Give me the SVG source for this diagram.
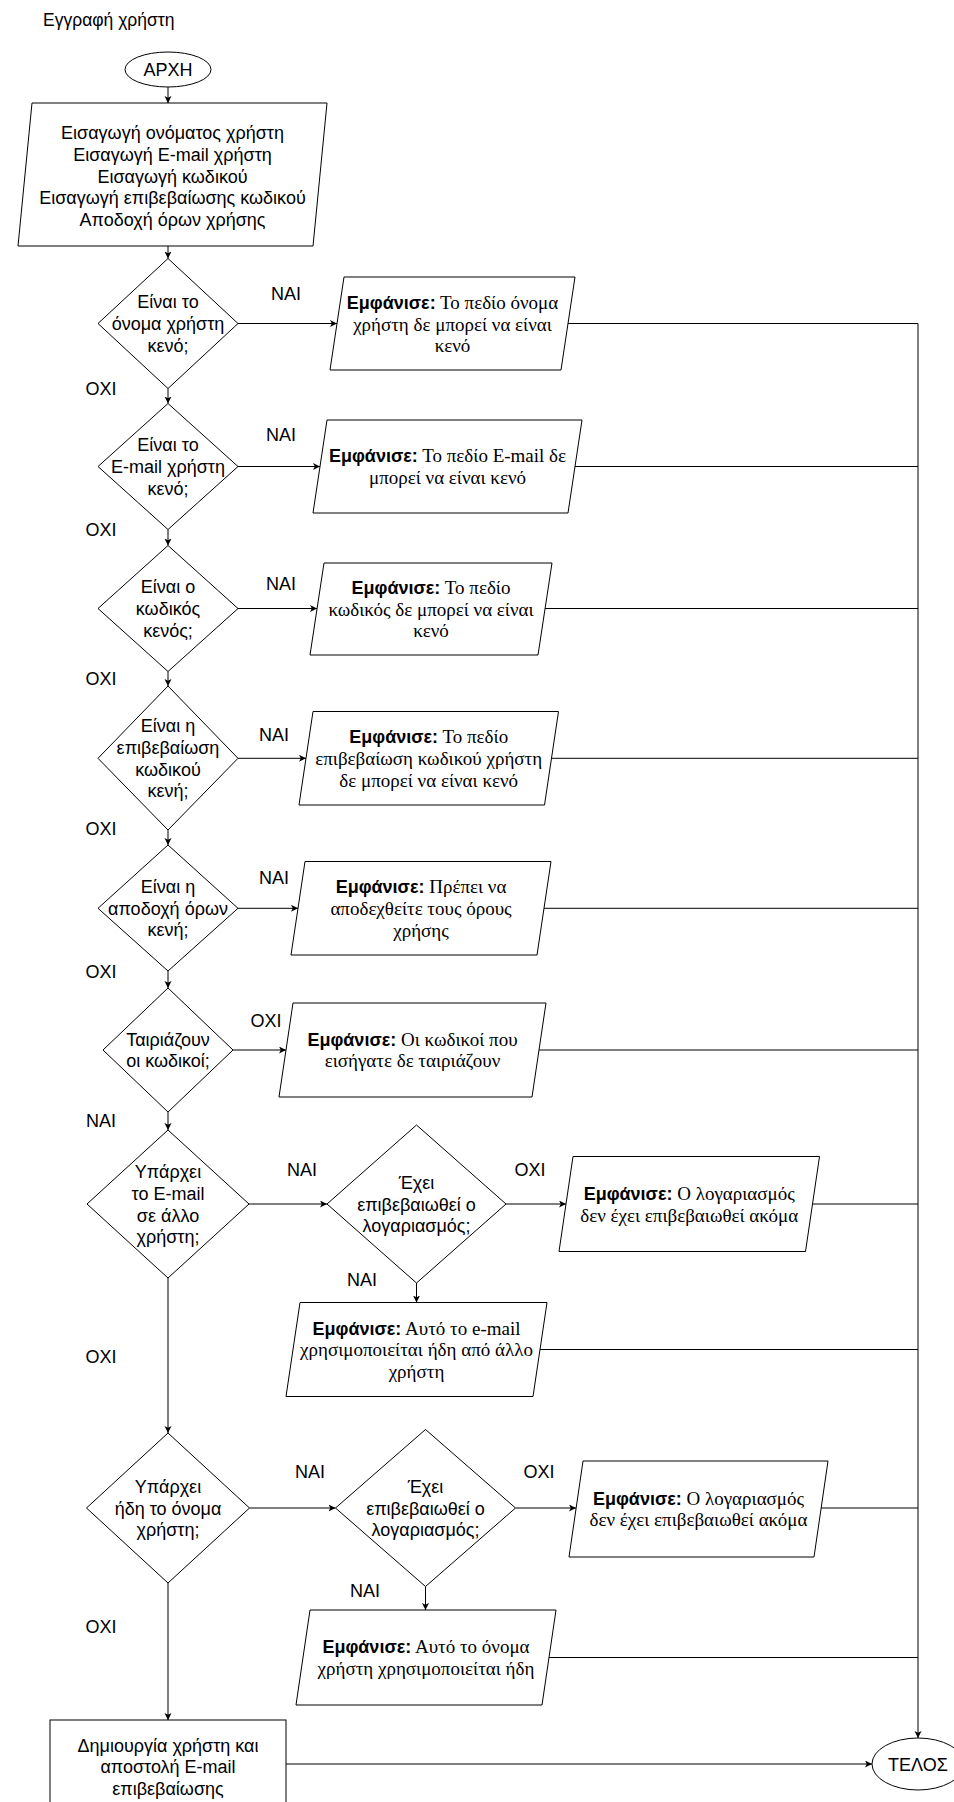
<svg xmlns="http://www.w3.org/2000/svg" width="954" height="1802" viewBox="0 0 954 1802">
  <defs>
    <marker id="arrow" markerUnits="userSpaceOnUse" markerWidth="8" markerHeight="8" refX="7" refY="3.5" orient="auto">
      <path d="M0,0 L7,3.5 L0,7 L1.8,3.5 z" fill="#000"/>
    </marker>
    <style>
      .shape { fill: #fff; stroke: #000; stroke-width: 1; }
      .conn { fill: none; stroke: #000; stroke-width: 1; }
      .arr { marker-end: url(#arrow); }
      .sans { font-family: "Liberation Sans", Arial, sans-serif; font-size: 18px; fill: #000; }
      .serif { font-family: "Liberation Serif", "Times New Roman", serif; font-size: 19px; fill: #000; }
      .b { font-family: "Liberation Sans", Arial, sans-serif; font-weight: bold; font-size: 18px; }
      .c { text-anchor: middle; }
      .title { font-family: "Liberation Sans", Arial, sans-serif; font-size: 17.5px; fill: #000; }
    </style>
  </defs>

  <text class="title" x="43" y="26">Εγγραφή χρήστη</text>

  <!-- connectors -->
  <g id="connectors">
    <!-- main column -->
    <path class="conn arr" d="M168,87 V103"/>
    <path class="conn arr" d="M168,246 V258.5"/>
    <path class="conn arr" d="M168,388.5 V403.5"/>
    <path class="conn arr" d="M168,529.5 V545.5"/>
    <path class="conn arr" d="M168,671.5 V686"/>
    <path class="conn arr" d="M168,830 V845"/>
    <path class="conn arr" d="M168,971 V988"/>
    <path class="conn arr" d="M168,1112 V1130"/>
    <path class="conn arr" d="M168,1278 V1433"/>
    <path class="conn arr" d="M168,1583 V1720"/>
    <!-- decisions to messages -->
    <path class="conn arr" d="M238,323.5 H337"/>
    <path class="conn arr" d="M238,466.5 H320"/>
    <path class="conn arr" d="M238,608.5 H317"/>
    <path class="conn arr" d="M238,758.3 H306"/>
    <path class="conn arr" d="M238,908.3 H298"/>
    <path class="conn arr" d="M233,1050 H286"/>
    <path class="conn arr" d="M249,1204 H327"/>
    <path class="conn arr" d="M506,1204 H566"/>
    <path class="conn arr" d="M416.5,1283 V1302.5"/>
    <path class="conn arr" d="M249.5,1508 H335.5"/>
    <path class="conn arr" d="M515.5,1508 H576"/>
    <path class="conn arr" d="M425.5,1586.5 V1610"/>
    <path class="conn arr" d="M286,1764 H872"/>
    <!-- messages to end bus -->
    <path class="conn" d="M568,323.5 H918"/>
    <path class="conn" d="M575,466.5 H918"/>
    <path class="conn" d="M545,608.5 H918"/>
    <path class="conn" d="M551,758.3 H918"/>
    <path class="conn" d="M544,908.3 H918"/>
    <path class="conn" d="M539,1050 H918"/>
    <path class="conn" d="M812,1204 H918"/>
    <path class="conn" d="M540,1349.5 H918"/>
    <path class="conn" d="M821,1508 H918"/>
    <path class="conn" d="M549,1657.5 H918"/>
    <path class="conn arr" d="M918,323.5 V1738"/>
  </g>

  <!-- branch labels -->
  <g id="labels" class="sans c">
    <text x="286" y="299.5">ΝΑΙ</text>
    <text x="101" y="394.5">ΟΧΙ</text>
    <text x="281" y="441">ΝΑΙ</text>
    <text x="101" y="536">ΟΧΙ</text>
    <text x="281" y="590">ΝΑΙ</text>
    <text x="101" y="685">ΟΧΙ</text>
    <text x="274" y="741">ΝΑΙ</text>
    <text x="101" y="835">ΟΧΙ</text>
    <text x="274" y="883.5">ΝΑΙ</text>
    <text x="101" y="978">ΟΧΙ</text>
    <text x="266" y="1027">ΟΧΙ</text>
    <text x="101" y="1127">ΝΑΙ</text>
    <text x="302" y="1175.5">ΝΑΙ</text>
    <text x="530" y="1175.5">ΟΧΙ</text>
    <text x="362" y="1286">ΝΑΙ</text>
    <text x="101" y="1363">ΟΧΙ</text>
    <text x="310" y="1478">ΝΑΙ</text>
    <text x="539" y="1478">ΟΧΙ</text>
    <text x="365" y="1597">ΝΑΙ</text>
    <text x="101" y="1633">ΟΧΙ</text>
  </g>

  <g id="start">
    <ellipse class="shape" cx="168" cy="69.5" rx="43" ry="17.5"/>
    <text class="sans c" x="168" y="76">ΑΡΧΗ</text>
  </g>

  <g id="input">
    <polygon class="shape" points="32,103 327,103 313,246 18,246"/>
    <text class="sans c" x="172.5" y="139.3">Εισαγωγή ονόματος χρήστη</text>
    <text class="sans c" x="172.5" y="160.9">Εισαγωγή E-mail χρήστη</text>
    <text class="sans c" x="172.5" y="182.5">Εισαγωγή κωδικού</text>
    <text class="sans c" x="172.5" y="204.1">Εισαγωγή επιβεβαίωσης κωδικού</text>
    <text class="sans c" x="172.5" y="225.7">Αποδοχή όρων χρήσης</text>
  </g>

  <g id="d-username-empty">
    <polygon class="shape" points="168,258.5 238,323.5 168,388.5 98,323.5"/>
    <text class="sans c" x="168" y="308.4">Είναι το</text>
    <text class="sans c" x="168" y="330">όνομα χρήστη</text>
    <text class="sans c" x="168" y="351.6">κενό;</text>
  </g>
  <g id="m-username-empty">
    <polygon class="shape" points="344,277 575,277 561,370 330,370"/>
    <text class="serif c" x="452.5" y="309"><tspan class="b">Εμφάνισε:</tspan> Το πεδίο όνομα</text>
    <text class="serif c" x="452.5" y="330.5">χρήστη δε μπορεί να είναι</text>
    <text class="serif c" x="452.5" y="352">κενό</text>
  </g>

  <g id="d-email-empty">
    <polygon class="shape" points="168,403.5 238,466.5 168,529.5 98,466.5"/>
    <text class="sans c" x="168" y="451.4">Είναι το</text>
    <text class="sans c" x="168" y="473">E-mail χρήστη</text>
    <text class="sans c" x="168" y="494.6">κενό;</text>
  </g>
  <g id="m-email-empty">
    <polygon class="shape" points="327,420 582,420 568,513 313,513"/>
    <text class="serif c" x="447.5" y="462"><tspan class="b">Εμφάνισε:</tspan> Το πεδίο E-mail δε</text>
    <text class="serif c" x="447.5" y="484">μπορεί να είναι κενό</text>
  </g>

  <g id="d-password-empty">
    <polygon class="shape" points="168,545.5 238,608.5 168,671.5 98,608.5"/>
    <text class="sans c" x="168" y="593.4">Είναι ο</text>
    <text class="sans c" x="168" y="615">κωδικός</text>
    <text class="sans c" x="168" y="636.6">κενός;</text>
  </g>
  <g id="m-password-empty">
    <polygon class="shape" points="324,563 552,563 538,655 310,655"/>
    <text class="serif c" x="431" y="594"><tspan class="b">Εμφάνισε:</tspan> Το πεδίο</text>
    <text class="serif c" x="431" y="615.5">κωδικός δε μπορεί να είναι</text>
    <text class="serif c" x="431" y="637">κενό</text>
  </g>

  <g id="d-confirm-empty">
    <polygon class="shape" points="168,686 238,758.3 168,830 98,758.3"/>
    <text class="sans c" x="168" y="732.4">Είναι η</text>
    <text class="sans c" x="168" y="754">επιβεβαίωση</text>
    <text class="sans c" x="168" y="775.6">κωδικού</text>
    <text class="sans c" x="168" y="797.2">κενή;</text>
  </g>
  <g id="m-confirm-empty">
    <polygon class="shape" points="313,711.5 558.5,711.5 544.5,805 299,805"/>
    <text class="serif c" x="428.7" y="743"><tspan class="b">Εμφάνισε:</tspan> Το πεδίο</text>
    <text class="serif c" x="428.7" y="765">επιβεβαίωση κωδικού χρήστη</text>
    <text class="serif c" x="428.7" y="786.5">δε μπορεί να είναι κενό</text>
  </g>

  <g id="d-terms-empty">
    <polygon class="shape" points="168,845 238,908.3 168,971 98,908.3"/>
    <text class="sans c" x="168" y="893.2">Είναι η</text>
    <text class="sans c" x="168" y="914.8">αποδοχή όρων</text>
    <text class="sans c" x="168" y="936.4">κενή;</text>
  </g>
  <g id="m-terms-empty">
    <polygon class="shape" points="305,861.5 551,861.5 537,955 291,955"/>
    <text class="serif c" x="421" y="893"><tspan class="b">Εμφάνισε:</tspan> Πρέπει να</text>
    <text class="serif c" x="421" y="915">αποδεχθείτε τους όρους</text>
    <text class="serif c" x="421" y="936.5">χρήσης</text>
  </g>

  <g id="d-passwords-match">
    <polygon class="shape" points="168,988 233,1050 168,1112 103,1050"/>
    <text class="sans c" x="168" y="1045.7">Ταιριάζουν</text>
    <text class="sans c" x="168" y="1067.3">οι κωδικοί;</text>
  </g>
  <g id="m-passwords-mismatch">
    <polygon class="shape" points="293,1003 546,1003 532,1097 279,1097"/>
    <text class="serif c" x="412.5" y="1045.7"><tspan class="b">Εμφάνισε:</tspan> Οι κωδικοί που</text>
    <text class="serif c" x="412.5" y="1067.3">εισήγατε δε ταιριάζουν</text>
  </g>

  <g id="d-email-exists">
    <polygon class="shape" points="168,1130 249,1204 168,1278 87,1204"/>
    <text class="sans c" x="168" y="1178.3">Υπάρχει</text>
    <text class="sans c" x="168" y="1199.9">το E-mail</text>
    <text class="sans c" x="168" y="1221.5">σε άλλο</text>
    <text class="sans c" x="168" y="1243.1">χρήστη;</text>
  </g>
  <g id="d-email-verified">
    <polygon class="shape" points="416.5,1125 506,1204 416.5,1283 327,1204"/>
    <text class="sans c" x="416.5" y="1189">Έχει</text>
    <text class="sans c" x="416.5" y="1210.6">επιβεβαιωθεί ο</text>
    <text class="sans c" x="416.5" y="1232.2">λογαριασμός;</text>
  </g>
  <g id="m-email-unverified">
    <polygon class="shape" points="573,1156.5 819.5,1156.5 805.5,1251.5 559,1251.5"/>
    <text class="serif c" x="689.2" y="1200"><tspan class="b">Εμφάνισε:</tspan> Ο λογαριασμός</text>
    <text class="serif c" x="689.2" y="1221.6">δεν έχει επιβεβαιωθεί ακόμα</text>
  </g>
  <g id="m-email-taken">
    <polygon class="shape" points="300,1302.5 547,1302.5 533,1396.5 286,1396.5"/>
    <text class="serif c" x="416.5" y="1334.5"><tspan class="b">Εμφάνισε:</tspan> Αυτό το e-mail</text>
    <text class="serif c" x="416.5" y="1356">χρησιμοποιείται ήδη από άλλο</text>
    <text class="serif c" x="416.5" y="1377.6">χρήστη</text>
  </g>

  <g id="d-username-exists">
    <polygon class="shape" points="168,1433 249.5,1508 168,1583 86.5,1508"/>
    <text class="sans c" x="168" y="1492.9">Υπάρχει</text>
    <text class="sans c" x="168" y="1514.5">ήδη το όνομα</text>
    <text class="sans c" x="168" y="1536.1">χρήστη;</text>
  </g>
  <g id="d-username-verified">
    <polygon class="shape" points="425.5,1429.5 515.5,1508 425.5,1586.5 335.5,1508"/>
    <text class="sans c" x="425.5" y="1492.9">Έχει</text>
    <text class="sans c" x="425.5" y="1514.5">επιβεβαιωθεί ο</text>
    <text class="sans c" x="425.5" y="1536.1">λογαριασμός;</text>
  </g>
  <g id="m-username-unverified">
    <polygon class="shape" points="583,1461 828,1461 814,1557 569,1557"/>
    <text class="serif c" x="698.5" y="1504.7"><tspan class="b">Εμφάνισε:</tspan> Ο λογαριασμός</text>
    <text class="serif c" x="698.5" y="1526.3">δεν έχει επιβεβαιωθεί ακόμα</text>
  </g>
  <g id="m-username-taken">
    <polygon class="shape" points="310,1610 556,1610 542,1705 296,1705"/>
    <text class="serif c" x="426" y="1653"><tspan class="b">Εμφάνισε:</tspan> Αυτό το όνομα</text>
    <text class="serif c" x="426" y="1674.6">χρήστη χρησιμοποιείται ήδη</text>
  </g>

  <g id="create-user">
    <rect class="shape" x="50" y="1720" width="236" height="93"/>
    <text class="sans c" x="168" y="1751.5">Δημιουργία χρήστη και</text>
    <text class="sans c" x="168" y="1773">αποστολή E-mail</text>
    <text class="sans c" x="168" y="1794.5">επιβεβαίωσης</text>
  </g>

  <g id="end">
    <ellipse class="shape" cx="918" cy="1764" rx="46" ry="26"/>
    <text class="sans c" x="918" y="1770.5">ΤΕΛΟΣ</text>
  </g>
</svg>
